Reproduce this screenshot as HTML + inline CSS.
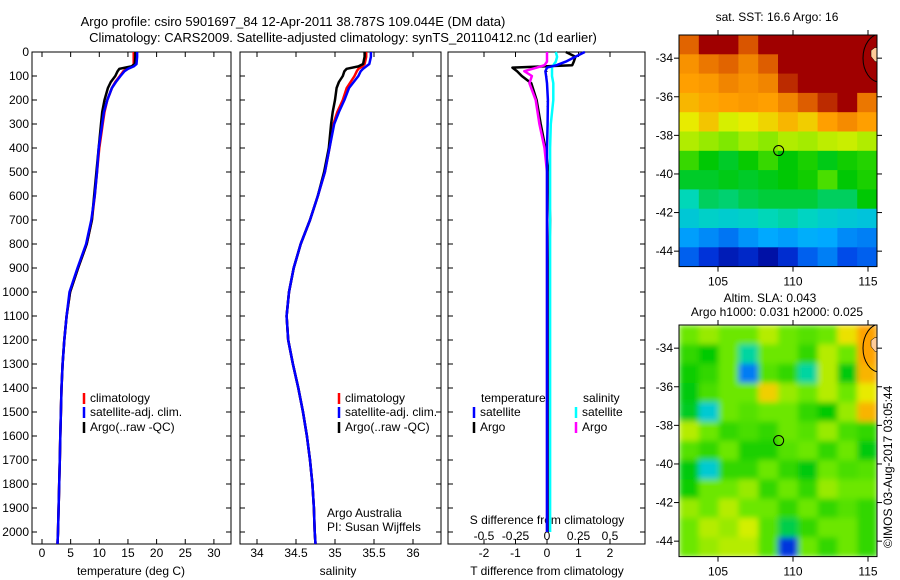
<!DOCTYPE html>
<html><head><meta charset="utf-8"><style>
html,body{margin:0;padding:0;background:#fff;}
svg{display:block;font-family:"Liberation Sans",Arial,sans-serif;}
text{fill:#000;}
</style></head><body>
<svg id="fig" width="900" height="580" viewBox="0 0 900 580" xmlns="http://www.w3.org/2000/svg">
<defs>
<filter id="smooth" x="0" y="0" width="1" height="1"><feGaussianBlur stdDeviation="3" edgeMode="duplicate"/></filter>
<clipPath id="clipSST"><rect x="679" y="35" width="198" height="231.6"/></clipPath>
<clipPath id="clipSLA"><rect x="679" y="325" width="198" height="231.6"/></clipPath>
</defs>
<g id="titles">
<text x="293" y="26" font-size="13" text-anchor="middle">Argo profile: csiro 5901697_84 12-Apr-2011 38.787S 109.044E (DM data)</text>
<text x="343" y="42" font-size="13" text-anchor="middle">Climatology: CARS2009. Satellite-adjusted climatology: synTS_20110412.nc (1d earlier)</text>
<text x="777" y="21" font-size="12" text-anchor="middle">sat. SST: 16.6 Argo: 16</text>
<text x="770" y="302" font-size="12" text-anchor="middle">Altim. SLA: 0.043</text>
<text x="777" y="316" font-size="12" text-anchor="middle">Argo h1000: 0.031 h2000: 0.025</text>
<text transform="translate(892,548) rotate(-90)" font-size="12">©IMOS 03-Aug-2017 03:05:44</text>
<text x="327" y="517" font-size="12">Argo Australia</text>
<text x="327" y="531" font-size="12">PI: Susan Wijffels</text>
</g>
<g id="plots"></g>
</svg>
<script>
// ---- profile data ----
const depth = [0,20,50,60,70,80,100,125,150,200,250,300,400,500,600,700,800,900,1000,1100,1200,1300,1400,1500,1600,1700,1800,1900,2000,2050];
const tempClim = [16.0,16.0,16.0,15.8,14.8,14.2,13.6,12.8,12.2,11.4,10.9,10.6,10.0,9.6,9.2,8.7,7.8,6.3,4.9,4.3,3.9,3.6,3.4,3.3,3.2,3.1,3.0,2.9,2.8,2.7];
const tempSat = [16.6,16.6,16.5,16.0,15.0,14.4,13.7,12.9,12.2,11.4,10.8,10.5,9.9,9.6,9.2,8.6,7.7,6.2,4.8,4.3,3.9,3.6,3.4,3.3,3.2,3.1,3.0,2.9,2.8,2.7];
const tempArgo = [16.3,16.3,16.2,15.6,13.5,13.2,12.8,12.0,11.5,10.9,10.5,10.3,9.9,9.5,9.1,8.7,7.8,6.3,4.9,4.3,3.9,3.6,3.4,3.3,3.2,3.1,3.0,2.9,2.8,2.7];
const salClim = [35.4,35.4,35.38,35.35,35.3,35.28,35.25,35.2,35.15,35.1,35.03,34.98,34.93,34.87,34.78,34.68,34.56,34.47,34.41,34.38,34.40,34.46,34.53,34.59,34.64,34.68,34.71,34.73,34.74,34.75];
const salSat = [35.46,35.46,35.44,35.4,35.36,35.33,35.3,35.24,35.18,35.12,35.05,34.99,34.93,34.87,34.78,34.68,34.56,34.47,34.41,34.38,34.40,34.46,34.53,34.59,34.64,34.68,34.71,34.73,34.74,34.75];
const salArgo = [35.38,35.38,35.36,35.3,35.15,35.12,35.1,35.05,35.02,35.0,34.97,34.95,34.92,34.86,34.78,34.68,34.56,34.47,34.41,34.38,34.40,34.46,34.53,34.59,34.64,34.68,34.71,34.73,34.74,34.75];
const diffDepth = [0,20,40,55,65,80,100,130,200,300,400,500,700,1000,1500,2000];
const dTempArgo = [0.6,0.9,0.85,0.8,-1.1,-0.95,-0.8,-0.5,-0.33,-0.2,-0.05,0.05,0.1,0.05,0.05,0.05];
const dTempSat = [1.2,0.9,0.6,0.3,0,-0.05,-0.03,0,0.03,0.02,0,0,0,0,0,0];
const dSalArgo = [0,0,0,-0.02,-0.08,-0.18,-0.12,-0.14,-0.09,-0.06,-0.02,0,0,0,0,0];
const dSalSat = [0.07,0.08,0.07,0.05,0.04,0.04,0.04,0.05,0.05,0.03,0.025,0.025,0.025,0.025,0.025,0.025];
const depthTicks = [0,100,200,300,400,500,600,700,800,900,1000,1100,1200,1300,1400,1500,1600,1700,1800,1900,2000];
const tempTicks = [0,5,10,15,20,25,30];
const salTicks = [34,34.5,35,35.5,36];
const dTTicks = [-2,-1,0,1,2];
const dSTicks = [-0.5,-0.25,0,0.25,0.5];
const dSTickLabels = ["-0.5","-0.25","0","0.25","0.5"];
// ---- map data (rows north->south, cols west->east) ----
const sstGrid = [
[20.3,21.5,21.5,20.5,21.5,21.5,21.5,21.5,21.5,21.5],
[19.6,20.0,20.3,19.8,20.4,21.5,21.5,21.5,21.5,21.5],
[19.4,19.5,19.8,19.6,19.8,21.0,21.5,21.5,21.5,21.5],
[19.1,19.3,19.4,19.5,19.4,19.8,20.4,21.0,21.5,20.0],
[18.4,18.9,18.2,18.4,18.7,19.1,18.8,19.4,19.7,19.4],
[17.9,17.7,17.5,17.8,17.6,17.9,17.8,18.0,18.1,17.9],
[16.8,16.2,16.0,16.3,16.8,16.2,16.5,16.1,16.4,16.6],
[16.0,16.0,16.1,16.0,16.1,16.2,16.4,17.0,16.2,16.5],
[15.2,15.7,15.6,15.8,15.9,15.9,15.9,15.7,15.7,16.2],
[14.8,15.0,14.9,15.0,15.2,15.3,15.1,14.9,14.8,14.7],
[14.0,13.8,13.6,13.9,14.1,14.0,14.2,14.1,13.8,13.7],
[13.4,12.9,12.5,12.7,12.3,12.8,13.4,13.7,13.2,13.4]];
const slaGrid = [
[0.05,0.08,0.05,0.05,0.1,0.05,0.03,0.05,0.15,0.22],
[0.0,-0.04,0.05,-0.12,0.05,0.05,0.0,0.1,0.05,0.22],
[-0.03,0.0,0.05,-0.26,0.03,0.0,-0.12,0.1,-0.05,0.2],
[-0.05,0.02,0.05,0.05,0.17,0.08,0.05,0.1,0.05,0.14],
[-0.06,-0.16,0.05,0.03,0.05,0.05,0.0,-0.04,0.08,0.2],
[0.1,0.05,0.0,0.02,0.0,0.05,0.03,0.08,0.02,0.0],
[0.03,0.0,0.05,-0.02,-0.02,0.03,0.05,0.0,0.05,-0.05],
[-0.05,-0.16,0.0,0.0,0.05,0.0,-0.05,0.05,0.02,0.03],
[-0.03,0.05,0.05,0.08,0.0,0.05,0.0,0.08,0.05,0.05],
[0.08,0.05,0.1,0.05,0.05,0.0,0.05,0.0,0.03,0.0],
[0.05,0.1,0.08,0.12,0.03,-0.08,0.0,0.05,0.05,0.0],
[0.05,0.08,0.1,0.1,0.03,-0.32,0.05,0.0,0.05,0.0]];
const lonTicks = [105,110,115];
const latTicks = [-34,-36,-38,-40,-42,-44];
const argoLon = 109.044, argoLat = -38.787;

const NS = "http://www.w3.org/2000/svg";
const root = document.getElementById('plots');
function mk(tag, attrs, parent){const e=document.createElementNS(NS,tag);for(const k in attrs)e.setAttribute(k,attrs[k]);(parent||root).appendChild(e);return e;}
function txt(x,y,s,anchor,size,parent){const t=mk('text',{x:x,y:y,'font-size':size||12,'text-anchor':anchor||'middle'},parent);t.textContent=s;return t;}

const yD = d => 52 + d*0.24;
const xT = v => 42 + v*5.73;
const xS = v => 257 + (v-34)*78;
const xdT = v => 547 + v*31.5;
const xdS = v => 547 + v*126;

function frame(x0,x1,name){
  const r=mk('rect',{x:x0,y:52,width:x1-x0,height:492,fill:'none',stroke:'#000','stroke-width':1});
  
  
}
function line(xs,ys,color,name,w){
  const pts=xs.map((v,i)=>xs[i].toFixed(1)+','+ys[i].toFixed(1)).join(' ');
  const p=mk('polyline',{points:pts,fill:'none',stroke:color,'stroke-width':w||2.5,'stroke-linejoin':'round'});
  
  
}
function xTicks(ticks,fx,labels,y){
  ticks.forEach((t,i)=>{const x=fx(t);mk('line',{x1:x,x2:x,y1:544,y2:539,stroke:'#000'});mk('line',{x1:x,x2:x,y1:52,y2:57,stroke:'#000'});
    const l=txt(x,y,labels?labels[i]:String(t));
    
    });
}
function yTicks(x0,x1,labels){
  depthTicks.forEach(d=>{const y=yD(d);mk('line',{x1:x0,x2:x0+5,y1:y,y2:y,stroke:'#000'});mk('line',{x1:x1,x2:x1-5,y1:y,y2:y,stroke:'#000'});
    if(labels){const l=txt(x0-3,y+4,String(d),'end');
      
      }});
}
function legendEntry(x,y,color,label){
  const g=mk('g',{});
  
  
  mk('line',{x1:x,x2:x,y1:y-9,y2:y+2,stroke:color,'stroke-width':2.5},g);
  txt(x+6,y,label,'start',12,g);
}

// Panel 1: temperature
frame(32,231,'temperature-panel-frame');
yTicks(32,231,true); xTicks(tempTicks,xT,null,557);
txt(131,575,'temperature (deg C)');
line(tempClim.map(xT),depth.map(yD),'#ff0000','temp-climatology-line');
line(tempArgo.map(xT),depth.map(yD),'#000000','temp-argo-line');
line(tempSat.map(xT),depth.map(yD),'#0000ff','temp-satellite-line');
legendEntry(84,402,'#ff0000','climatology');
legendEntry(84,416,'#0000ff','satellite-adj. clim.');
legendEntry(84,431,'#000000','Argo(..raw -QC)');

// Panel 2: salinity
frame(240,441,'salinity-panel-frame');
yTicks(240,441,false); xTicks(salTicks,xS,null,557);
txt(338,575,'salinity');
line(salClim.map(xS),depth.map(yD),'#ff0000','sal-climatology-line');
line(salArgo.map(xS),depth.map(yD),'#000000','sal-argo-line');
line(salSat.map(xS),depth.map(yD),'#0000ff','sal-satellite-line');
legendEntry(339,402,'#ff0000','climatology');
legendEntry(339,416,'#0000ff','satellite-adj. clim.');
legendEntry(339,431,'#000000','Argo(..raw -QC)');

// Panel 3: differences
frame(448,645,'difference-panel-frame');
yTicks(448,645,false); xTicks(dTTicks,xdT,null,557);
dSTicks.forEach((t,i)=>{const l=txt(xdS(t),540,dSTickLabels[i]);});
txt(547,524,'S difference from climatology');
txt(547,575,'T difference from climatology');
const zl=mk('line',{x1:547,x2:547,y1:56,y2:190,stroke:'#000','stroke-dasharray':'1,4'});

line(dTempArgo.map(xdT),diffDepth.map(yD),'#000000','t-diff-argo-line');
line(dSalArgo.map(xdS),diffDepth.map(yD),'#ff00ff','s-diff-argo-line');
line(dSalSat.map(xdS),diffDepth.map(yD),'#00ffff','s-diff-satellite-line');
line(dTempSat.map(xdT),diffDepth.map(yD),'#0000ff','t-diff-satellite-line');
txt(481,402,'temperature','start');
txt(583,402,'salinity','start');
legendEntry(474,416,'#0000ff','satellite');
legendEntry(474,431,'#000000','Argo');
legendEntry(576,416,'#00ffff','satellite');
legendEntry(576,431,'#ff00ff','Argo');

// Maps
const cmapStops = [[0,0,140],[0,60,230],[0,170,255],[0,215,190],[0,200,0],[100,230,0],[230,240,0],[255,160,0],[220,90,0],[160,0,0]];
function cmap(t){t=Math.max(0,Math.min(1,t));
  const f=t*(cmapStops.length-1), i=Math.min(cmapStops.length-2,Math.floor(f)), u=f-i;
  const a=cmapStops[i], b=cmapStops[i+1];
  return 'rgb('+a.map((v,k)=>Math.round(v+(b[k]-v)*u)).join(',')+')';}
function drawMap(grid,top,vmin,vmax,name,clipId,smooth){
  const left=679,right=877,lon0=102.4,lat0=-32.8,pxLon=15,pxLat=19.3;
  const bottom=top+12*pxLat;
  const mx=lon=>left+(lon-lon0)*pxLon, my=lat=>top+(lat0-lat)*pxLat;
  const g=mk('g',{});
  
  
  const cg=mk('g',{'clip-path':'url(#'+clipId+')'},g);
  const cells=mk('g',smooth?{filter:'url(#smooth)'}:{},cg);
  const rows=grid.length, cols=grid[0].length, cw=(right-left)/cols, ch=(bottom-top)/rows;
  grid.forEach((row,i)=>row.forEach((v,j)=>{
    const c=mk('rect',{x:(left+j*cw).toFixed(1),y:(top+i*ch).toFixed(1),width:(cw+0.6).toFixed(1),height:(ch+0.6).toFixed(1),fill:cmap((v-vmin)/(vmax-vmin))},cells);
    
    
  }));
  mk('ellipse',{cx:right+3,cy:my(-34),rx:17,ry:24,fill:'none',stroke:'#000','stroke-width':1},cg);
  mk('path',{d:`M${right-6},${my(-33.6)} l4,-3 l5,1 v14 l-5,-1 l-4,-5 z`,fill:'#ffcc99',stroke:'#000','stroke-width':0.5},cg);
  mk('rect',{x:left,y:top,width:right-left,height:bottom-top,fill:'none',stroke:'#000'},g);
  lonTicks.forEach(l=>{const x=mx(l);mk('line',{x1:x,x2:x,y1:top,y2:top-5,stroke:'#000'},g);mk('line',{x1:x,x2:x,y1:bottom,y2:bottom+5,stroke:'#000'},g);txt(x,bottom+19,String(l),'middle',12,g);});
  latTicks.forEach(l=>{const y=my(l);mk('line',{x1:left,x2:left-5,y1:y,y2:y,stroke:'#000'},g);mk('line',{x1:right,x2:right+5,y1:y,y2:y,stroke:'#000'},g);txt(left-6,y+4,String(l),'end',12,g);});
  const c=mk('circle',{cx:mx(argoLon),cy:my(argoLat),r:5,fill:'none',stroke:'#000','stroke-width':1},g);
  
  
}
drawMap(sstGrid,35,12.0,21.5,'sst-map','clipSST',false);
drawMap(slaGrid,325,-0.4,0.4,'sla-map','clipSLA',true);
</script>
</body></html>
